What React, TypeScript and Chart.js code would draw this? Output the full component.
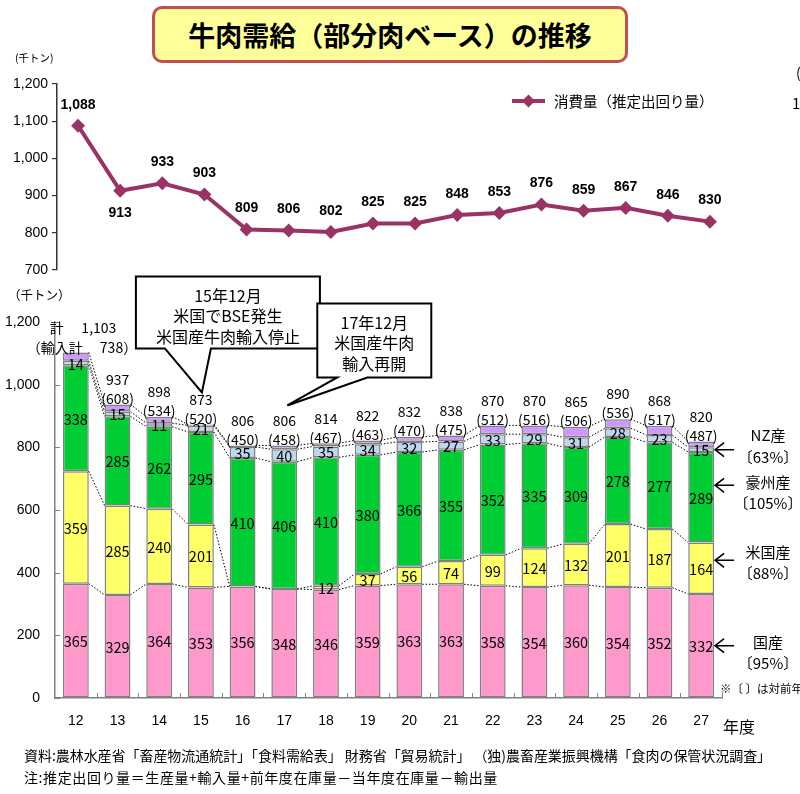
import React, { useEffect, useRef } from "react";
import { Chart, registerables } from "chart.js";

Chart.register(...registerables);

const years = ["12", "13", "14", "15", "16", "17", "18", "19", "20", "21", "22", "23", "24", "25", "26", "27"];
const consumption = [1088, 913, 933, 903, 809, 806, 802, 825, 825, 848, 853, 876, 859, 867, 846, 830];
const totalSupply = [1103, 937, 898, 873, 806, 806, 814, 822, 832, 838, 870, 870, 865, 890, 868, 820];
const importTotal = [738, 608, 534, 520, 450, 458, 467, 463, 470, 475, 512, 516, 506, 536, 517, 487];
const domestic = [365, 329, 364, 353, 356, 348, 346, 359, 363, 363, 358, 354, 360, 354, 352, 332];
const usImports = [359, 285, 240, 201, 0, 0, 12, 37, 56, 74, 99, 124, 132, 201, 187, 164];
const ausImports = [338, 285, 262, 295, 410, 406, 410, 380, 366, 355, 352, 335, 309, 278, 277, 289];
const nzImports = [14, 15, 11, 21, 35, 40, 35, 34, 32, 27, 33, 29, 31, 28, 23, 15];
const otherImports = [27, 23, 21, 3, 5, 12, 10, 12, 16, 19, 28, 28, 34, 29, 30, 19];

const seriesNames = ["国産", "米国産", "豪州産", "NZ産", "その他"];
const seriesColors = ["#FF99CC", "#FFFF66", "#00CC33", "#BDD7EE", "#CC99FF"];
const sideLabels = [
  ["国産", "〔95%〕"],
  ["米国産", "〔88%〕"],
  ["豪州産", "〔105%〕"],
  ["NZ産", "〔63%〕"],
];
const callout1 = ["15年12月", "米国でBSE発生", "米国産牛肉輸入停止"];
const callout2 = ["17年12月", "米国産牛肉", "輸入再開"];
const lineLabel = "消費量（推定出回り量）";
const titleText = "牛肉需給（部分肉ベース）の推移";
const sourceText = "資料:農林水産省「畜産物流通統計」「食料需給表」 財務省「貿易統計」 （独)農畜産業振興機構「食肉の保管状況調査」";
const noteText = "注:推定出回り量＝生産量+輸入量+前年度在庫量－当年度在庫量－輸出量";

const LINE_COLOR = "#993366";
const CJK = '"Noto Sans CJK JP", "Noto Sans", sans-serif';
const LAT = '"Liberation Sans", Arial, sans-serif';

const fmt = (v: number) => v.toLocaleString("en-US");

const linePlugin = {
  id: "lineDecor",
  afterDatasetsDraw(chart: any) {
    const ctx = chart.ctx;
    const meta = chart.getDatasetMeta(0);
    ctx.save();
    ctx.font = `bold 14px ${LAT}`;
    ctx.fillStyle = "#000";
    ctx.textAlign = "center";
    ctx.textBaseline = "middle";
    meta.data.forEach((pt: any, i: number) => {
      const dy = i === 1 ? 22 : -21;
      ctx.fillText(fmt(consumption[i]), pt.x, pt.y + dy);
    });
    // legend
    const ly = chart.chartArea.top + 17;
    ctx.strokeStyle = LINE_COLOR;
    ctx.lineWidth = 4;
    ctx.beginPath();
    ctx.moveTo(512, ly);
    ctx.lineTo(545, ly);
    ctx.stroke();
    ctx.fillStyle = LINE_COLOR;
    ctx.beginPath();
    ctx.moveTo(528.5, ly - 6.5);
    ctx.lineTo(535, ly);
    ctx.lineTo(528.5, ly + 6.5);
    ctx.lineTo(522, ly);
    ctx.closePath();
    ctx.fill();
    ctx.fillStyle = "#000";
    ctx.textAlign = "left";
    ctx.font = `14.5px ${CJK}`;
    ctx.fillText(lineLabel, 554, ly);
    ctx.restore();
  },
};

function drawCallout(ctx: any, l: number, t: number, r: number, b: number, ba: number, bb: number, tx: number, ty: number, lines: string[]) {
  ctx.beginPath();
  ctx.moveTo(l, t);
  ctx.lineTo(r, t);
  ctx.lineTo(r, b);
  ctx.lineTo(bb, b);
  ctx.lineTo(tx, ty);
  ctx.lineTo(ba, b);
  ctx.lineTo(l, b);
  ctx.closePath();
  ctx.fillStyle = "#fff";
  ctx.fill();
  ctx.strokeStyle = "#000";
  ctx.lineWidth = 2;
  ctx.stroke();
  ctx.fillStyle = "#000";
  ctx.font = `16px ${CJK}`;
  ctx.textAlign = "center";
  ctx.textBaseline = "middle";
  const cx = (l + r) / 2;
  lines.forEach((s, k) => ctx.fillText(s, cx, t + 19 + k * 20.5));
}

const barPlugin = {
  id: "barDecor",
  afterDatasetsDraw(chart: any) {
    const { ctx, scales, chartArea } = chart;
    const x = scales.x;
    const y = scales.y;
    const metas = [0, 1, 2, 3, 4].map((i) => chart.getDatasetMeta(i));
    const n = years.length;
    ctx.save();
    // dotted connectors
    ctx.strokeStyle = "#000";
    ctx.lineWidth = 1;
    ctx.setLineDash([1.5, 1.8]);
    for (let d = 0; d < 5; d++) {
      const els = metas[d].data;
      for (let i = 0; i < n - 1; i++) {
        const a = els[i];
        const b = els[i + 1];
        ctx.beginPath();
        ctx.moveTo(a.x + a.width / 2, a.y);
        ctx.lineTo(b.x - b.width / 2, b.y);
        ctx.stroke();
      }
    }
    ctx.setLineDash([]);
    // inward ticks
    ctx.strokeStyle = "#808080";
    ctx.lineWidth = 1;
    const cw = x.getPixelForValue(1) - x.getPixelForValue(0);
    for (let i = 1; i <= n; i++) {
      const bx = Math.round(x.getPixelForValue(i - 1) + cw / 2) + 0.5;
      ctx.beginPath();
      ctx.moveTo(bx, chartArea.bottom);
      ctx.lineTo(bx, chartArea.bottom - 5);
      ctx.stroke();
    }
    y.ticks.forEach((t: any) => {
      const py = Math.round(y.getPixelForValue(t.value)) + 0.5;
      ctx.beginPath();
      ctx.moveTo(chartArea.left, py);
      ctx.lineTo(chartArea.left + 5, py);
      ctx.stroke();
    });
    // values inside bars
    ctx.fillStyle = "#000";
    ctx.textAlign = "center";
    ctx.textBaseline = "middle";
    ctx.font = `14.5px ${CJK}`;
    for (let d = 0; d < 4; d++) {
      const vals = chart.data.datasets[d].data;
      metas[d].data.forEach((el: any, i: number) => {
        if (!vals[i]) return;
        ctx.fillText(String(vals[i]), el.x, (el.y + el.base) / 2 + 1);
      });
    }
    // totals and imports above bars
    ctx.font = `14px ${CJK}`;
    metas[4].data.forEach((el: any, i: number) => {
      const top = el.y;
      if (i === 0) {
        ctx.textAlign = "center";
        ctx.fillText("計", el.x - 19, top - 25);
        ctx.fillText(fmt(totalSupply[i]), el.x + 23, top - 25);
        ctx.textAlign = "right";
        ctx.fillText("（輸入計", el.x + 7, top - 5);
        ctx.textAlign = "left";
        ctx.fillText(`${importTotal[i]}）`, el.x + 24, top - 5);
        ctx.textAlign = "center";
      } else {
        ctx.fillText(fmt(totalSupply[i]), el.x, top - 25);
        ctx.fillText(`(${importTotal[i]})`, el.x, top - 6);
      }
    });
    // callouts
    const t1x = x.getPixelForValue(3) + 1;
    const t1y = y.getPixelForValue(totalSupply[3]) - 32;
    drawCallout(ctx, t1x - 66, t1y - 116, t1x + 118, t1y - 44, t1x - 37, t1x + 9, t1x, t1y, callout1);
    const t2x = x.getPixelForValue(5) + 3;
    const t2y = y.getPixelForValue(totalSupply[5]) - 40;
    drawCallout(ctx, t2x + 30, t2y - 102, t2x + 144, t2y - 28, t2x + 50, t2x + 80, t2x, t2y, callout2);
    // arrows at the last bar
    const last = n - 1;
    const arrowShift = [0, -8, -12, 0];
    ctx.strokeStyle = "#000";
    ctx.lineWidth = 1.6;
    for (let d = 0; d < 4; d++) {
      const el = metas[d].data[last];
      const ay = (el.y + el.base) / 2 + arrowShift[d];
      const ax = el.x + el.width / 2 + 1;
      ctx.beginPath();
      ctx.moveTo(ax + 19, ay);
      ctx.lineTo(ax, ay);
      ctx.moveTo(ax + 9, ay - 7);
      ctx.lineTo(ax, ay);
      ctx.lineTo(ax + 9, ay + 7);
      ctx.stroke();
    }
    ctx.restore();
  },
};

export default function App() {
  const topRef = useRef<HTMLCanvasElement>(null);
  const botRef = useRef<HTMLCanvasElement>(null);

  useEffect(() => {
    const top = new Chart(topRef.current as HTMLCanvasElement, {
      type: "line",
      data: {
        labels: years,
        datasets: [
          {
            label: lineLabel,
            data: consumption,
            borderColor: LINE_COLOR,
            backgroundColor: LINE_COLOR,
            borderWidth: 4,
            pointStyle: "rectRot",
            pointRadius: 7,
            pointBorderWidth: 0,
            tension: 0,
          },
        ],
      },
      options: {
        animation: false,
        responsive: false,
        devicePixelRatio: 1,
        layout: { padding: { left: 0, right: 69, top: 84, bottom: 20 } },
        plugins: { legend: { display: false }, tooltip: { enabled: false } },
        scales: {
          x: { type: "category", offset: true, display: false },
          y: {
            min: 700,
            max: 1200,
            ticks: {
              stepSize: 100,
              color: "#000",
              padding: 4,
              font: { family: LAT, size: 14 },
              callback: (v: any) => fmt(Number(v)),
            },
            grid: { drawOnChartArea: false, drawTicks: true, tickLength: 5, color: "#333", lineWidth: 1.2 },
            border: { display: true, color: "#333", width: 1.5 },
            afterFit: (s: any) => {
              s.width = 57;
            },
          },
        },
      },
      plugins: [linePlugin],
    } as any);

    const bot = new Chart(botRef.current as HTMLCanvasElement, {
      type: "bar",
      data: {
        labels: years,
        datasets: [domestic, usImports, ausImports, nzImports, otherImports].map((arr, k) => ({
          label: seriesNames[k],
          data: arr,
          backgroundColor: seriesColors[k],
          borderColor: "#808080",
          borderWidth: 1.5,
          borderSkipped: false,
          barPercentage: 0.62,
          categoryPercentage: 1,
          stack: "s",
        })),
      },
      options: {
        animation: false,
        responsive: false,
        devicePixelRatio: 1,
        layout: { padding: { left: 0, right: 78, top: 62, bottom: 0 } },
        plugins: { legend: { display: false }, tooltip: { enabled: false } },
        scales: {
          x: {
            stacked: true,
            offset: true,
            grid: { drawOnChartArea: false, drawTicks: false },
            border: { display: true, color: "#808080", width: 1.5 },
            ticks: { color: "#000", padding: 15, font: { family: LAT, size: 14 } },
            afterFit: (s: any) => {
              s.height = 42;
            },
          },
          y: {
            stacked: true,
            min: 0,
            max: 1200,
            ticks: {
              stepSize: 200,
              color: "#000",
              padding: 15,
              font: { family: LAT, size: 14 },
              callback: (v: any) => fmt(Number(v)),
            },
            grid: { drawOnChartArea: false, drawTicks: false },
            border: { display: true, color: "#808080", width: 1.5 },
            afterFit: (s: any) => {
              s.width = 55;
            },
          },
        },
      },
      plugins: [barPlugin],
    } as any);

    return () => {
      top.destroy();
      bot.destroy();
    };
  }, []);

  const abs = (l: number, t: number, extra: any = {}) => ({
    position: "absolute" as const,
    left: l,
    top: t,
    whiteSpace: "nowrap" as const,
    lineHeight: "20px",
    ...extra,
  });

  const sideY = [
    [642, 663],
    [552, 573],
    [482, 503],
    [435, 457],
  ];

  return (
    <div
      style={{
        position: "fixed",
        left: 0,
        top: 0,
        width: 800,
        height: 794,
        background: "#fff",
        overflow: "hidden",
        fontFamily: CJK,
        color: "#000",
      }}
    >
      <canvas ref={topRef} width={800} height={290} style={{ position: "absolute", left: 0, top: 0 }} />
      <canvas ref={botRef} width={800} height={480} style={{ position: "absolute", left: 0, top: 260 }} />

      <div
        style={{
          position: "absolute",
          left: 152,
          top: 6,
          width: 476,
          height: 57,
          boxSizing: "border-box",
          border: "3px solid #C0504D",
          borderRadius: 10,
          background: "#FFFF99",
          display: "flex",
          alignItems: "center",
          justifyContent: "center",
          fontSize: 27,
          fontWeight: "bold",
        }}
      >
        {titleText}
      </div>

      <div style={abs(15, 48, { fontSize: 10.5 })}>(千トン)</div>
      <div style={abs(8, 285, { fontSize: 12.5 })}>（千トン）</div>

      {sideLabels.map((pair, k) => (
        <React.Fragment key={pair[0]}>
          <div style={abs(728, sideY[k][0] - 10, { width: 80, textAlign: "center", fontSize: 15 })}>{pair[0]}</div>
          <div style={abs(728, sideY[k][1] - 10, { width: 80, textAlign: "center", fontSize: 15 })}>{pair[1]}</div>
        </React.Fragment>
      ))}
      <div style={abs(720, 678, { fontSize: 11.5 })}>※〔 〕は対前年</div>
      <div style={abs(723, 716, { fontSize: 16 })}>年度</div>

      <div style={abs(796, 62, { fontSize: 14 })}>(</div>
      <div style={abs(792, 93, { fontSize: 15 })}>10</div>

      <div style={abs(24, 745, { fontSize: 14, letterSpacing: "-0.05px" })}>{sourceText}</div>
      <div style={abs(24, 767, { fontSize: 14, letterSpacing: "0.6px" })}>{noteText}</div>
    </div>
  );
}
